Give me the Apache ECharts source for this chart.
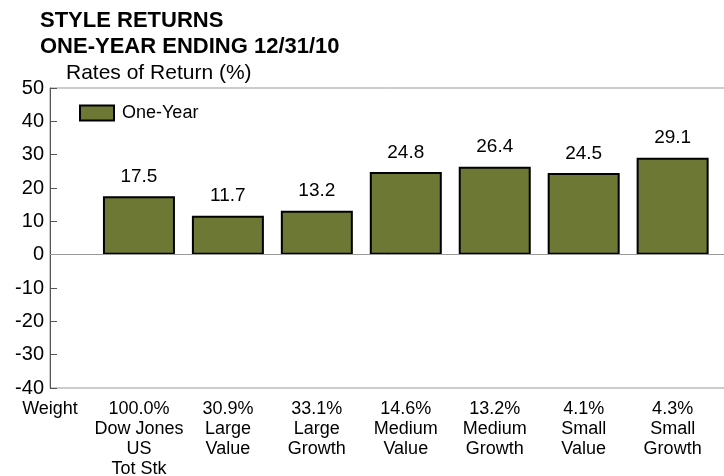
<!DOCTYPE html>
<html>
<head>
<meta charset="utf-8">
<script src="https://cdn.jsdelivr.net/npm/echarts@6/dist/echarts.min.js"></script>
<style>
  html, body { margin: 0; padding: 0; background: #fff; }
  #chart { width: 724px; height: 476px; }
</style>
</head>
<body>
<div id="chart"></div>
<script>
const categories = ['Dow Jones\nUS\nTot Stk', 'Large\nValue', 'Large\nGrowth', 'Medium\nValue', 'Medium\nGrowth', 'Small\nValue', 'Small\nGrowth'];
const weights = ['100.0%', '30.9%', '33.1%', '14.6%', '13.2%', '4.1%', '4.3%'];
const oneYear = [17.5, 11.7, 13.2, 24.8, 26.4, 24.5, 29.1];

const font = '"Liberation Sans", Arial, sans-serif';
const chart = echarts.init(document.getElementById('chart'));

chart.setOption({
  animation: false,
  textStyle: { fontFamily: font },
  title: {
    text: 'STYLE RETURNS\nONE-YEAR ENDING 12/31/10',
    left: 35,
    top: 3,
    textStyle: { fontFamily: font, fontSize: 22, fontWeight: 'bold', color: '#000', lineHeight: 26 }
  },
  graphic: [{
    type: 'text',
    left: 66,
    top: 63,
    style: { text: 'Rates of Return (%)', font: '21px ' + font, fill: '#000' }
  }],
  legend: {
    left: 74,
    top: 99,
    icon: 'rect',
    itemWidth: 34,
    itemHeight: 15,
    itemGap: 10,
    textStyle: { fontFamily: font, fontSize: 18, color: '#000', padding: [0, 0, 0, 3] },
    data: ['One-Year']
  },
  grid: {
    left: 50,
    right: -2,
    top: 88,
    bottom: 88,
    containLabel: false,
    outerBoundsMode: 'none',
    show: true,
    borderColor: '#999',
    borderWidth: 1
  },
  xAxis: {
    type: 'value',
    min: 0,
    max: 7.6,
    interval: 1,
    splitLine: { show: false },
    axisLine: { show: true, lineStyle: { color: '#999' } },
    axisTick: { show: false },
    axisLabel: {
      showMaxLabel: false,
      margin: 11,
      fontSize: 18,
      lineHeight: 20,
      color: '#000',
      verticalAlign: 'top',
      formatter: v => v === 0 ? 'Weight' : (weights[v - 1] + '\n' + categories[v - 1])
    }
  },
  yAxis: {
    type: 'value',
    min: -40,
    max: 50,
    interval: 10,
    splitLine: { show: false },
    axisLine: { show: true, lineStyle: { color: '#555' } },
    axisTick: { show: true, inside: true, length: 7, lineStyle: { color: '#555' } },
    axisLabel: { fontSize: 20, color: '#000', margin: 6 }
  },
  series: [{
    name: 'One-Year',
    type: 'bar',
    barWidth: 72,
    data: oneYear.map((v, i) => [i + 1, v]),
    itemStyle: { color: '#6d7834', borderColor: '#000', borderWidth: 2 },
    label: {
      show: true,
      position: 'top',
      distance: 10,
      fontSize: 19,
      color: '#000',
      formatter: p => p.value[1].toFixed(1)
    },
    markLine: {
      silent: true,
      symbol: 'none',
      label: { show: false },
      lineStyle: { color: '#999', type: 'solid', width: 1 },
      data: [{ yAxis: 0 }]
    }
  }]
});
</script>
</body>
</html>
